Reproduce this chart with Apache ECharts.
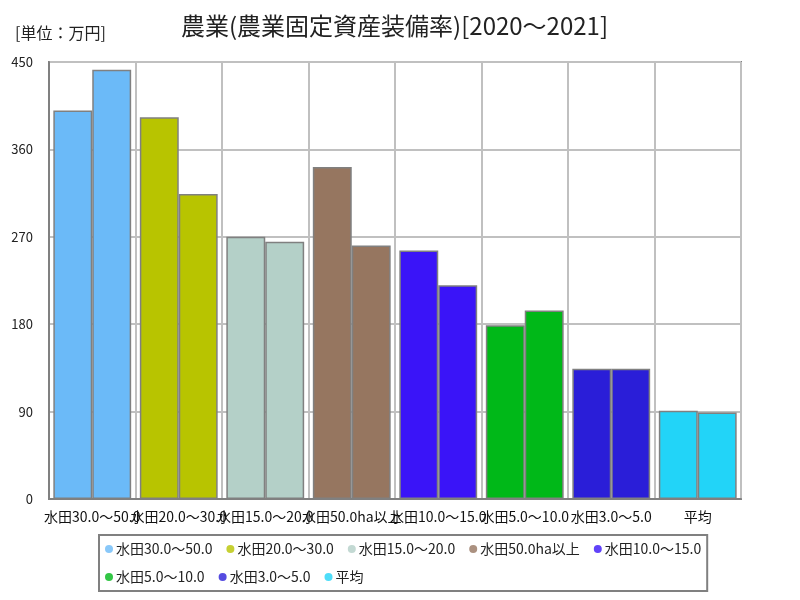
<!DOCTYPE html>
<html>
<head>
<meta charset="utf-8">
<script src="https://cdn.jsdelivr.net/npm/echarts@6/dist/echarts.min.js"></script>
<style>html,body{margin:0;padding:0;background:#fff}#c{width:800px;height:600px}</style>
</head>
<body>
<div id="c"></div>
<script>
const categories = ["水田30.0～50.0","水田20.0～30.0","水田15.0～20.0","水田50.0ha以上","水田10.0～15.0","水田5.0～10.0","水田3.0～5.0","平均"];
const values2020 = [400, 393, 270, 342, 256, 179, 134, 91];
const values2021 = [442, 314, 265, 261, 220, 194, 134, 89];
const colors = ["#6bbaf8","#b8c400","#b4d0c8","#967660","#3a14f8","#00b818","#2a1ed8","#22d4f8"];
const yTicks = [0, 90, 180, 270, 360, 450];
const titleText = "農業(農業固定資産装備率)[2020～2021]";
const unitText = "[単位：万円]";

const FONT = '"Noto Sans CJK JP", "Noto Sans", sans-serif';
const chart = echarts.init(document.getElementById('c'), null, {renderer: 'canvas'});

function mk(vals){
  return vals.map((v,i)=>({value:v, itemStyle:{color:colors[i]}}));
}
const legendSeries = categories.map((c,i)=>({
  name:c, type:'scatter', data:[], itemStyle:{color:colors[i]}
}));

chart.setOption({
  animation:false,
  textStyle:{fontFamily:FONT},
  title:[
    {text:titleText, left:176, top:9, textStyle:{fontFamily:FONT, fontSize:24, fontWeight:'normal', color:'#222'}},
    {text:unitText, left:10, top:20, textStyle:{fontFamily:FONT, fontSize:16, fontWeight:'normal', color:'#222'}}
  ],
  legend:{
    data:categories,
    left:99, top:535, width:640,
    icon:'circle', itemWidth:8, itemHeight:8, itemGap:14,
    padding:[7,6,7,6],
    borderColor:'#808080', borderWidth:2,
    textStyle:{fontFamily:FONT, fontSize:14, lineHeight:12, color:'#222', padding:[0,0,0,-2]}
  },
  grid:{left:49, right:59, top:62, bottom:101, show:true, borderColor:'#808080', borderWidth:2, backgroundColor:'transparent'},
  xAxis:{
    type:'category', data:categories,
    axisLine:{lineStyle:{color:'#808080', width:2}},
    axisTick:{show:false},
    splitLine:{show:true, lineStyle:{color:'#c0c0c0', width:2}},
    axisLabel:{interval:0, color:'#111', fontFamily:FONT, fontSize:14, margin:11}
  },
  yAxis:{
    type:'value', min:yTicks[0], max:yTicks[yTicks.length-1], interval:yTicks[1]-yTicks[0],
    axisLine:{show:true, lineStyle:{color:'#808080', width:2}},
    axisTick:{show:false},
    splitLine:{lineStyle:{color:'#c0c0c0', width:2}},
    axisLabel:{color:'#222', fontFamily:FONT, fontSize:13, margin:16}
  },
  series:[
    {name:'2020', type:'bar', data:mk(values2020), barGap:'0%', barCategoryGap:'10%',
     itemStyle:{borderColor:'#808080', borderWidth:1.5}},
    {name:'2021', type:'bar', data:mk(values2021), barGap:'0%', barCategoryGap:'10%',
     itemStyle:{borderColor:'#808080', borderWidth:1.5}}
  ].concat(legendSeries)
});
</script>
</body>
</html>
